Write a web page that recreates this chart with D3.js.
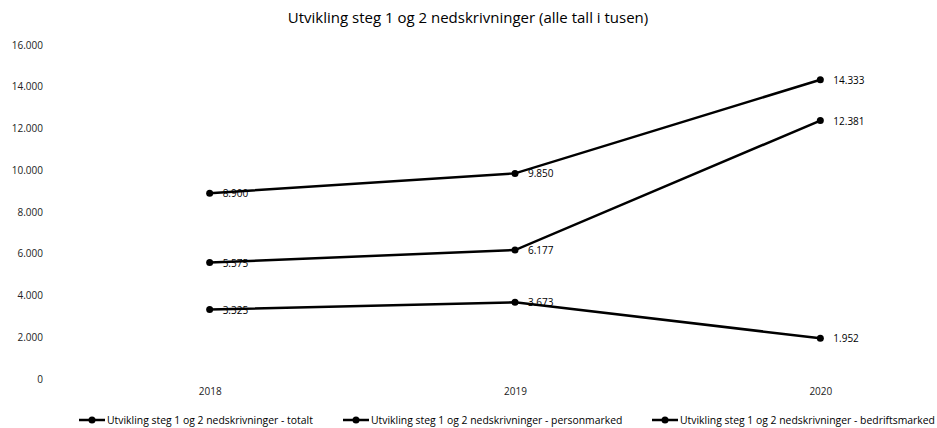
<!DOCTYPE html>
<html>
<head>
<meta charset="utf-8">
<script src="https://cdn.jsdelivr.net/npm/d3@7"></script>
<style>
  body { margin: 0; background: #fff; }
  text { font-family: "Open Sans", "Liberation Sans", sans-serif; fill: #000; }
  .axis text { font-size: 10px; fill: #222; }
  .axis path, .axis line { display: none; }
</style>
</head>
<body>
<svg id="chart" width="937" height="428"></svg>
<script>
const years = ['2018', '2019', '2020'];
const totalt = [8900, 9850, 14333];
const personmarked = [5575, 6177, 12381];
const bedriftsmarked = [3325, 3673, 1952];
const seriesNames = [
  'Utvikling steg 1 og 2 nedskrivninger - totalt',
  'Utvikling steg 1 og 2 nedskrivninger - personmarked',
  'Utvikling steg 1 og 2 nedskrivninger - bedriftsmarked'
];
const yTicks = [0, 2000, 4000, 6000, 8000, 10000, 12000, 14000, 16000];

const svg = d3.select('#chart');
const width = 937, height = 428;
const margin = { top: 45, left: 57, right: -36, bottom: 49 };

const fmt = v => v === 0 ? '0' : d3.format(',')(v).replace(/,/g, '.');

const scaleX = d3.scalePoint()
  .domain(years)
  .range([margin.left, width - margin.right])
  .padding(0.5);

const scaleY = d3.scaleLinear()
  .domain([0, 16000])
  .range([height - margin.bottom, margin.top]);

// tittel
svg.append('text')
  .attr('x', 468)
  .attr('y', 23)
  .attr('text-anchor', 'middle')
  .style('font-size', '15px')
  .text('Utvikling steg 1 og 2 nedskrivninger (alle tall i tusen)');

// y-akse
svg.append('g')
  .attr('class', 'axis')
  .attr('transform', 'translate(43,0)')
  .call(d3.axisLeft(scaleY).tickValues(yTicks).tickFormat(fmt).tickSize(0).tickPadding(0));

// x-akse
svg.append('g')
  .attr('class', 'axis')
  .attr('transform', `translate(0, ${height - margin.bottom + 5})`)
  .call(d3.axisBottom(scaleX).tickSize(0).tickPadding(4));

const allSeries = [totalt, personmarked, bedriftsmarked];

const line = d3.line()
  .x((d, i) => scaleX(years[i]))
  .y(d => scaleY(d));

allSeries.forEach(values => {
  const g = svg.append('g');
  g.append('path')
    .attr('d', line(values))
    .attr('fill', 'none')
    .attr('stroke', '#000')
    .attr('stroke-width', 2.5);
  g.selectAll('circle')
    .data(values)
    .join('circle')
    .attr('cx', (d, i) => scaleX(years[i]))
    .attr('cy', d => scaleY(d))
    .attr('r', 3.5)
    .attr('fill', '#000');
  g.selectAll('text')
    .data(values)
    .join('text')
    .attr('x', (d, i) => scaleX(years[i]) + 13)
    .attr('y', d => scaleY(d) + 4)
    .style('font-size', '10px')
    .text(fmt);
});

// legende
const legendX = [79, 343, 652];
const legend = svg.append('g');
seriesNames.forEach((name, i) => {
  const g = legend.append('g').attr('transform', `translate(${legendX[i]}, 420)`);
  g.append('line')
    .attr('x1', 0).attr('x2', 26)
    .attr('y1', 0).attr('y2', 0)
    .attr('stroke', '#000')
    .attr('stroke-width', 2.5);
  g.append('circle')
    .attr('cx', 13).attr('cy', 0).attr('r', 3.5)
    .attr('fill', '#000');
  g.append('text')
    .attr('x', 28)
    .attr('y', 4)
    .style('font-size', '10.4px')
    .text(name);
});
</script>
</body>
</html>
